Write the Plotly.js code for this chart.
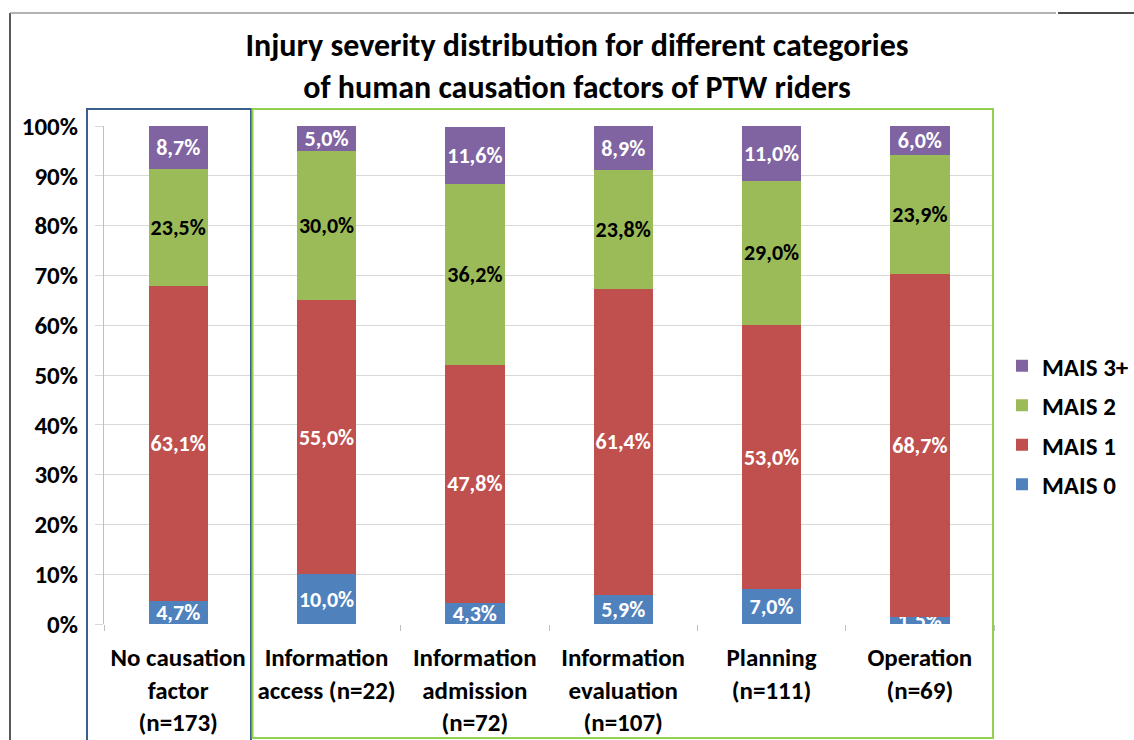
<!DOCTYPE html>
<html>
<head>
<meta charset="utf-8">
<script src="https://cdn.plot.ly/plotly-3.0.1.min.js"></script>
<style>
html,body{margin:0;padding:0;background:#fff;}
#chart{width:1134px;height:740px;}
</style>
</head>
<body>
<div id="chart"></div>
<script>
// ---- data ----
const categories = [
  "No causation<br>factor<br>(n=173)",
  "Information<br>access (n=22)",
  "Information<br>admission<br>(n=72)",
  "Information<br>evaluation<br>(n=107)",
  "Planning<br>(n=111)",
  "Operation<br>(n=69)"
];
const seriesNames = ["MAIS 0", "MAIS 1", "MAIS 2", "MAIS 3+"];
const mais0  = [4.7, 10.0, 4.3, 5.9, 7.0, 1.5];
const mais1  = [63.1, 55.0, 47.8, 61.4, 53.0, 68.7];
const mais2  = [23.5, 30.0, 36.2, 23.8, 29.0, 23.9];
const mais3p = [8.7, 5.0, 11.6, 8.9, 11.0, 6.0];
const yTickVals = [0, 10, 20, 30, 40, 50, 60, 70, 80, 90, 100];
const yTickText = ["0%", "10%", "20%", "30%", "40%", "50%", "60%", "70%", "80%", "90%", "100%"];

// ---- styles ----
const FONT = "Carlito, Lato, 'Open Sans', sans-serif";
const colors = ["#4F81BD", "#C0504D", "#9BBB59", "#8064A2"];
const textColors = ["#FFFFFF", "#FFFFFF", "#000000", "#FFFFFF"];
const seriesValues = [mais0, mais1, mais2, mais3p];

const traces = seriesValues.map((vals, i) => ({
  type: "bar",
  name: seriesNames[i],
  x: categories,
  y: vals,
  marker: {color: colors[i]},
  texttemplate: "%{y:.1f}%",
  textposition: "inside",
  insidetextanchor: "middle",
  textangle: 0,
  constraintext: "none",
  cliponaxis: true,
  textfont: {family: FONT, size: 22, color: textColors[i], weight: 700},
  legendgroup: "g" + i,
  legendrank: 1000 - i,
  hoverinfo: "skip"
}));

const layout = {
  width: 1134,
  height: 740,
  separators: ",.",
  paper_bgcolor: "#FFFFFF",
  plot_bgcolor: "#FFFFFF",
  barmode: "stack",
  bargap: 0.6,
  margin: {l: 104, r: 140, t: 126, b: 116},
  font: {family: FONT, color: "#000000"},
  title: {
    text: "Injury severity distribution for different categories<br>of human causation factors of PTW riders",
    font: {family: FONT, size: 32, weight: 700, color: "#000"},
    xref: "container", x: 577/1134, xanchor: "center",
    yref: "container", y: 1 - 56/740, yanchor: "top"
  },
  xaxis: {
    type: "category",
    tickson: "boundaries",
    ticks: "outside",
    ticklen: 6,
    tickcolor: "#BFBFBF",
    showline: false,
    showgrid: false,
    tickfont: {family: FONT, size: 25, weight: 700, color: "#000"},
    ticklabelstandoff: 16,
    fixedrange: true
  },
  yaxis: {
    range: [0, 100],
    tickvals: yTickVals,
    ticktext: yTickText,
    ticks: "outside",
    ticklen: 8,
    tickcolor: "#D9D9D9",
    showgrid: true,
    gridcolor: "#D9D9D9",
    gridwidth: 1,
    showline: true,
    linecolor: "#BFBFBF",
    linewidth: 1,
    zeroline: false,
    tickfont: {family: FONT, size: 25, weight: 700, color: "#000"},
    ticklabelstandoff: 12,
    fixedrange: true
  },
  legend: {
    traceorder: "grouped",
    tracegroupgap: 4,
    xref: "container", x: 1002/1134, xanchor: "left",
    yref: "container", y: 1 - 425/740, yanchor: "middle",
    font: {family: FONT, size: 25, weight: 700, color: "#000"},
    itemwidth: 30,
    bgcolor: "rgba(0,0,0,0)"
  },
  shapes: [
    // blue frame around first category
    {type: "rect", xref: "paper", yref: "paper",
     x0: (87-104)/890, x1: (251-104)/890, y0: (624-742)/498, y1: (624-109)/498,
     line: {color: "#3A5F8C", width: 2}, fillcolor: "rgba(0,0,0,0)", layer: "above"},
    // green frame around the human factor categories
    {type: "rect", xref: "paper", yref: "paper",
     x0: (252.5-104)/890, x1: (993-104)/890, y0: (624-738)/498, y1: (624-109)/498,
     line: {color: "#92D050", width: 2}, fillcolor: "rgba(0,0,0,0)", layer: "above"},
    // outer page borders
    {type: "line", xref: "paper", yref: "paper",
     x0: (10-104)/890, x1: (10-104)/890, y0: (624-742)/498, y1: (624-13)/498,
     line: {color: "#222222", width: 1.5}},
    {type: "line", xref: "paper", yref: "paper",
     x0: (10-104)/890, x1: (1056-104)/890, y0: (624-13)/498, y1: (624-13)/498,
     line: {color: "#9A9A9A", width: 1.5}},
    {type: "line", xref: "paper", yref: "paper",
     x0: (1058-104)/890, x1: (1136-104)/890, y0: (624-13)/498, y1: (624-13)/498,
     line: {color: "#111111", width: 1.5}}
  ],
  uniformtext: {mode: "show", minsize: 22}
};

Plotly.newPlot("chart", traces, layout, {displayModeBar: false, staticPlot: true});
</script>
</body>
</html>
